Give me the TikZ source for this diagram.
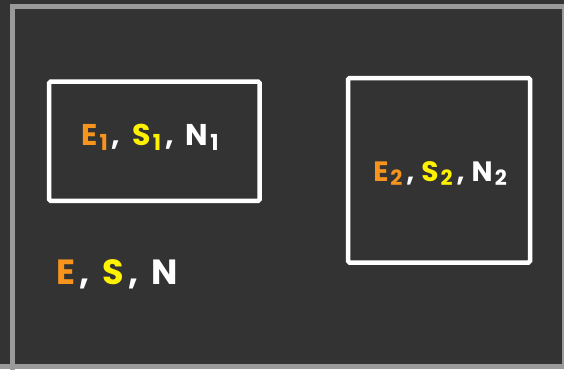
\documentclass[tikz,border=0pt]{standalone}
\usepackage{fontspec}
\setmainfont{Poppins}
\definecolor{bgdark}{HTML}{333333}
\definecolor{framegray}{HTML}{9A9A9A}
\definecolor{eorange}{HTML}{F7941D}
\definecolor{syellow}{HTML}{FFF200}
\newcommand{\subdig}[3]{\hspace{2pt}\raisebox{-#3}{\fontsize{#2}{#2}\selectfont #1}}
\newcommand{\cm}[1]{\textcolor{white}{\hspace{4pt},\hspace{#1}}}
\begin{document}
\begin{tikzpicture}[x=1pt,y=-1pt,
  boxstyle/.style={draw=white,line width=4.5pt,rounded corners=1.5pt,inner sep=0pt},
  lbl/.style={inner sep=0pt}]
\useasboundingbox (0,0) rectangle (564,369);
\fill[bgdark] (0,0) rectangle (564,369);
\draw[framegray,line width=5pt] (12.3,6.7) rectangle (572,372);
\fill[framegray] (0,364) rectangle (564,369);
\fill[framegray] (562,4) rectangle (564,369);
\node[boxstyle,minimum width=210.7pt,minimum height=119.1pt] (box1) at (154.35,141.25) {};
\node[boxstyle,minimum width=182pt,minimum height=184.5pt] (box2) at (439,170.25) {};
\node[lbl,font=\bfseries\fontsize{30}{30}\selectfont] (t1) at (150,137)
  {\textcolor{eorange}{E\subdig{1}{22}{5pt}}\cm{12pt}\textcolor{syellow}{S\subdig{1}{22}{5pt}}\cm{12pt}\textcolor{white}{N\subdig{1}{22}{5pt}}};
\node[lbl,font=\bfseries\fontsize{28}{28}\selectfont] (t2) at (440,174)
  {\textcolor{eorange}{E\subdig{2}{21}{4pt}}\cm{7pt}\textcolor{syellow}{S\subdig{2}{21}{4pt}}\cm{7pt}\textcolor{white}{N\subdig{2}{21}{4pt}}};
\node[lbl,font=\bfseries\fontsize{35}{35}\selectfont] (t3) at (117,274)
  {\textcolor{eorange}{E}\cm{13pt}\textcolor{syellow}{S}\cm{13pt}\textcolor{white}{N}};
\end{tikzpicture}
\end{document}
